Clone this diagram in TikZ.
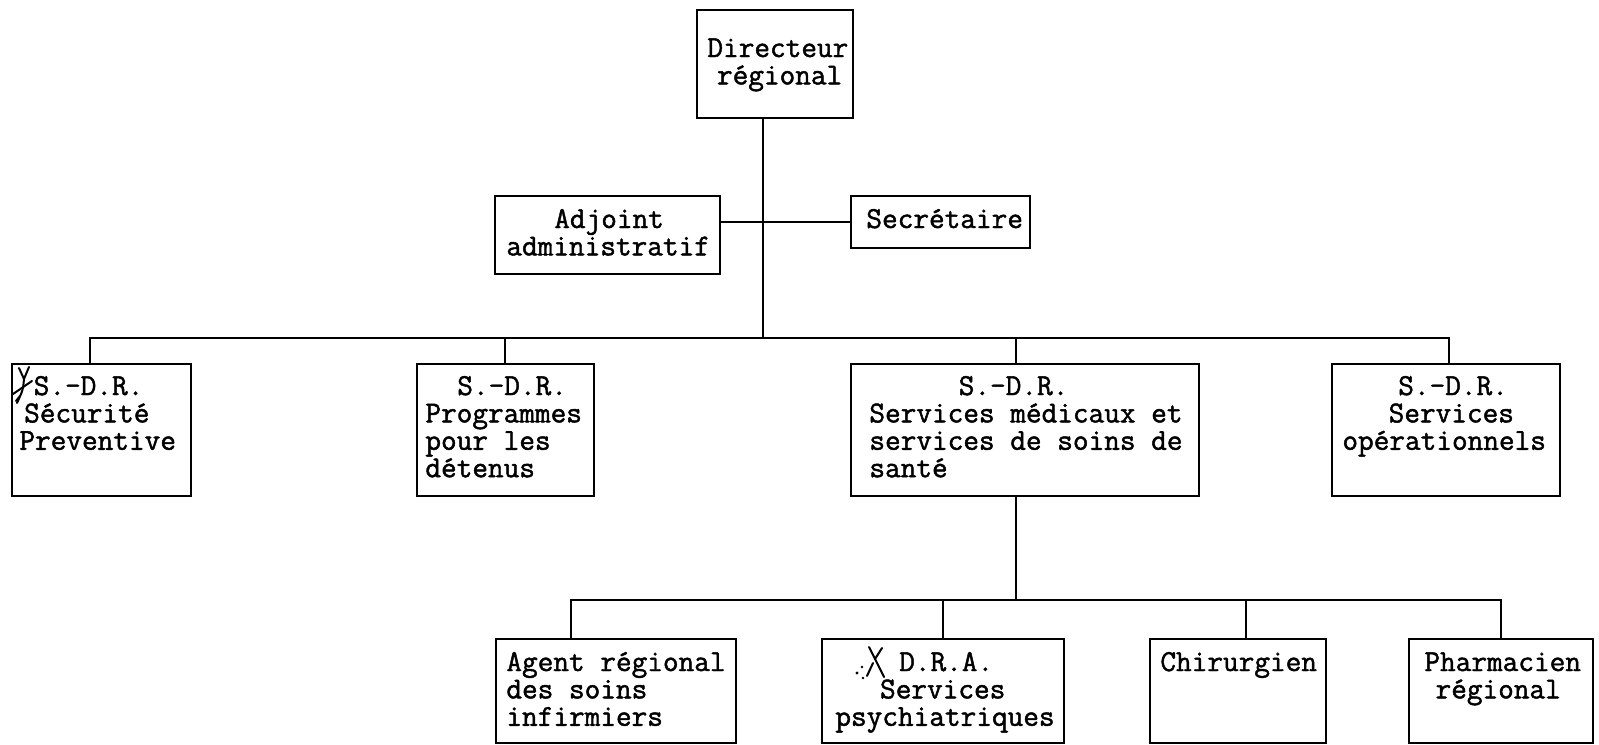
\documentclass[tikz,border=0pt]{standalone}
\usetikzlibrary{calc}
% typewriter face used for every label, slightly heavier like a ribbon print
\font\twfont="[lmmono12-regular.otf]:embolden=1.5" at 15.2pt
\newcommand\typewriter{\twfont}
% stack of typed lines, baseline at the first line, fixed line pitch
\newcommand\typed[1]{\vtop{\baselineskip=13.7pt\lineskiplimit=-50pt\lineskip=0pt\halign{##\hfil\cr#1\crcr}}}
% horizontal typewriter advance by a number of character cells
\newcommand\chars[1]{\kern#1\dimexpr0.525em\relax}
\begin{document}
\begin{tikzpicture}[x=0.5pt,y=-0.5pt,
  box/.style={draw, line width=1pt, rectangle, inner sep=0pt},
  conn/.style={line width=1pt},
  txt/.style={anchor=base west, inner sep=0pt, font=\typewriter},
  pen/.style={line width=1pt, line cap=round, line join=round}]
\useasboundingbox (0,0) rectangle (1599,744);
\fill[white] (0,0) rectangle (1599,744);

% ---- top: director, deputy, secretary
\node[box, minimum width=78pt, minimum height=54pt] (dir) at (775,64) {};
\node[txt] (dirT) at (707,57) {\typed{Directeur\cr\chars{0.6}régional}};

\node[box, minimum width=112.5pt, minimum height=39pt] (adj) at (607.5,235) {};
\node[txt] (adjT) at (506,228) {\typed{\chars{3}Adjoint\cr administratif}};

\node[box, minimum width=89.5pt, minimum height=26pt] (sec) at (940.5,222) {};
\node[txt] (secT) at (866,228) {Secrétaire};

% ---- second level: sub-directors
\node[box, minimum width=89.5pt, minimum height=66pt] (sdra) at (101.5,430) {};
\node[txt] (sdraT) at (19,395) {\typed{\chars{0.9}S.-D.R.\cr\chars{0.3}Sécurité\cr Preventive}};

\node[box, minimum width=88.5pt, minimum height=66pt] (sdrb) at (505.5,430) {};
\node[txt] (sdrbT) at (425,395) {\typed{\chars{2}S.-D.R.\cr Programmes\cr pour les\cr détenus}};

\node[box, minimum width=174pt, minimum height=66pt] (sdrc) at (1025,430) {};
\node[txt] (sdrcT) at (869,395) {\typed{\chars{5.6}S.-D.R.\cr Services médicaux et\cr services de soins de\cr santé}};

\node[box, minimum width=114pt, minimum height=66pt] (sdrd) at (1446,430) {};
\node[txt] (sdrdT) at (1342,395) {\typed{\chars{3.5}S.-D.R.\cr\chars{2.9}Services\cr opérationnels}};

% ---- third level: health services staff
\node[box, minimum width=120pt, minimum height=52pt] (agt) at (616,691) {};
\node[txt] (agtT) at (506,671) {\typed{Agent régional\cr des soins\cr infirmiers}};

\node[box, minimum width=121pt, minimum height=52pt] (dra) at (943,691) {};
\node[txt] (draT) at (835,671) {\typed{\chars{4}D.R.A.\cr\chars{2.8}Services\cr psychiatriques}};

\node[box, minimum width=88pt, minimum height=52pt] (chi) at (1238,691) {};
\node[txt] (chiT) at (1160,671) {Chirurgien};

\node[box, minimum width=92pt, minimum height=52pt] (pha) at (1501,691) {};
\node[txt] (phaT) at (1424,671) {\typed{Pharmacien\cr\chars{0.7}régional}};

% ---- connectors, top level
\coordinate (j0) at (763,338);
\draw[conn] (dir.south -| j0) -- (j0);
\draw[conn] (adj.east |- sec.west) -- (sec.west);

\coordinate (da) at (90,338);
\coordinate (db) at (505,338);
\coordinate (dc) at (1016,338);
\coordinate (dd) at (1449,338);
\draw[conn] (da |- sdra.north) -- (da) -- (dd) -- (dd |- sdrd.north);
\draw[conn] (db) -- (db |- sdrb.north);
\draw[conn] (dc) -- (dc |- sdrc.north);

% ---- connectors, health branch
\coordinate (k0) at (1016,600);
\draw[conn] (sdrc.south -| k0) -- (k0);
\coordinate (ea) at (571,600);
\coordinate (eb) at (943,600);
\coordinate (ec) at (1246,600);
\coordinate (ed) at (1501,600);
\draw[conn] (ea |- agt.north) -- (ea) -- (ed) -- (ed |- pha.north);
\draw[conn] (eb) -- (eb |- dra.north);
\draw[conn] (ec) -- (ec |- chi.north);

% ---- hand-made pen marks
\draw[pen] (19,368) -- (24,379) -- (29,367);
\draw[pen] (24,379) .. controls (23,390) .. (17,403);
\draw[pen] (13,394) -- (32,381);
\draw[pen] (16,401) -- (20,396);

\draw[pen] (869,647) -- (875,659) -- (882,648);
\draw[pen] (875,659) -- (884,677);
\draw[pen] (873,663) -- (867,676);
\fill (857,673) circle (1.6);
\fill (862,667) circle (1.4);
\fill (863,678) circle (1.4);
\end{tikzpicture}
\end{document}
